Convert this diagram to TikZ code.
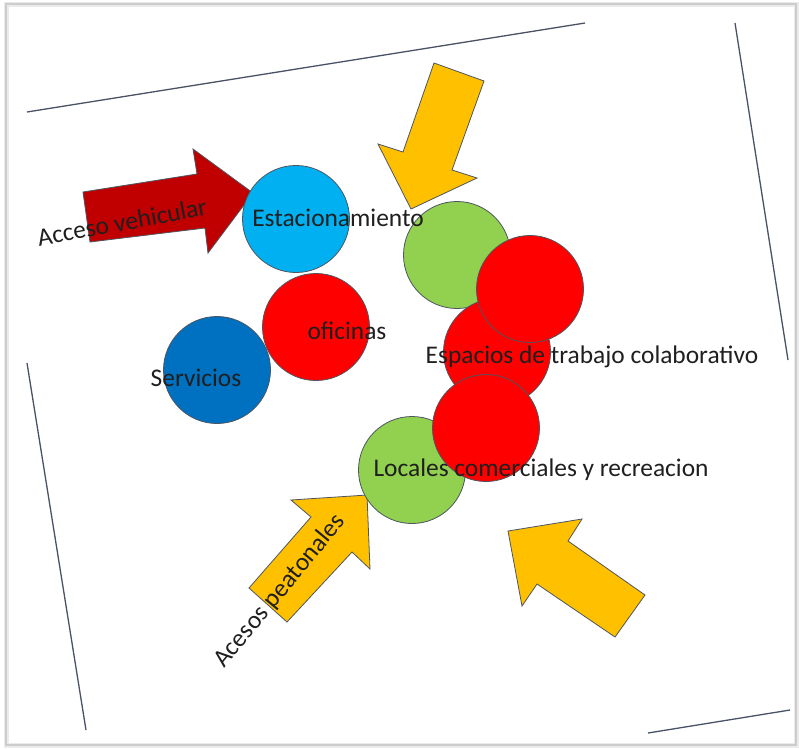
\documentclass[tikz,border=0pt]{standalone}
\usepackage{fontspec}
\setmainfont{Carlito}
\definecolor{cielo}{HTML}{00B0F0}
\definecolor{azul}{HTML}{0070C0}
\definecolor{rojo}{HTML}{FF0000}
\definecolor{verde}{HTML}{92D050}
\definecolor{amarillo}{HTML}{FFC000}
\definecolor{granate}{HTML}{C00000}
\definecolor{pagina}{HTML}{4A5266}
\definecolor{contorno}{HTML}{4D5560}
\begin{document}
\begin{tikzpicture}[x=1pt,y=-1pt,
  bub/.style={circle, draw=contorno, line width=0.8pt, minimum size=107pt, inner sep=0pt},
  lbl/.style={font=\fontsize{25.4}{30}\selectfont, text=black!88, inner sep=0pt},
  pageline/.style={draw=pagina, line width=1.3pt},
  blockarrow/.style={draw=contorno, line width=0.8pt, line join=miter}]
\useasboundingbox (0,0) rectangle (799,748);
\fill[white] (0,0) rectangle (799,748);
% outer frame with soft shadow
\draw[black!8, line width=5pt] (6,4) rectangle (796,745);
\draw[black!20, line width=1.4pt] (6,4) rectangle (796,745);
% page border fragments
\draw[pageline] (27,112) -- (585,23);
\draw[pageline] (735,23) -- (788,360);
\draw[pageline] (27,363) -- (86,730);
\draw[pageline] (648,733) -- (790,710);
% red arrow (vehicular)
\filldraw[blockarrow, fill=granate]
  (83,192) -- (197,174) -- (193,149) -- (253,193) -- (208,253) -- (205,228) -- (90,242) -- cycle;
% yellow arrows
\filldraw[blockarrow, fill=amarillo]
  (434,63) -- (484,81) -- (452,170) -- (477,178) -- (411,209) -- (378,144) -- (403,152) -- cycle;
\filldraw[blockarrow, fill=amarillo]
  (249,588) -- (311,517) -- (291,500) -- (367,495) -- (370,569) -- (352,552) -- (287,622) -- cycle;
\filldraw[blockarrow, fill=amarillo]
  (645,595) -- (568,541) -- (582,519) -- (508,531) -- (522,606) -- (537,584) -- (615,637) -- cycle;
% circles
\node[bub, fill=cielo] (est) at (296,219) {};
\node[bub, fill=rojo] (ofi) at (316,327) {};
\node[bub, fill=azul] (ser) at (217,370) {};
\node[bub, fill=verde] (g1) at (457,255) {};
\node[bub, fill=rojo] (r2) at (497,352) {};
\node[bub, fill=rojo] (r1) at (530,289) {};
\node[bub, fill=verde] (g2) at (412,470) {};
\node[bub, fill=rojo] (r3) at (486,428) {};
% labels
\node[lbl] (testa) at (338,218) {Estacionamiento};
\node[lbl] (tofi) at (347,331) {oficinas};
\node[lbl] (tser) at (196,378) {Servicios};
\node[lbl] (tesp) at (592,357) {Espacios de trabajo colaborativo};
\node[lbl] (tloc) at (541,470) {Locales comerciales y recreacion};
\node[lbl, rotate=10.5] (tveh) at (122,222) {Acceso vehicular};
\node[lbl, rotate=50.5] (tpea) at (280,591) {Acesos peatonales};
\end{tikzpicture}
\end{document}
